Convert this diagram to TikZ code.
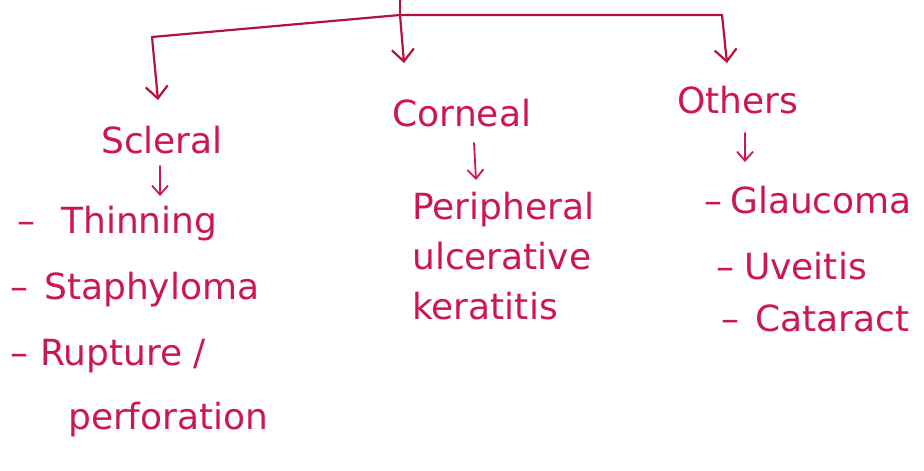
\documentclass[tikz,border=0pt]{standalone}
\usepackage{fontspec}
\setmainfont{DejaVu Sans}
\usetikzlibrary{arrows.meta}
\definecolor{ink}{RGB}{205,22,88}
\definecolor{lineink}{RGB}{180,18,60}
\tikzset{
  lbl/.style={text=ink, inner sep=0pt, font=\fontsize{36}{50}\selectfont},
  conn/.style={draw=lineink, line width=2.2pt, line cap=round, line join=round},
  bigarrow/.style={conn, -{Straight Barb[length=12pt,width=22pt,line width=2.2pt]}},
  smallarrow/.style={draw=ink, line width=1.8pt, line cap=round, -{Straight Barb[length=9pt,width=16pt,line width=1.8pt]}}
}
\begin{document}
\begin{tikzpicture}[x=1pt,y=-1pt]
\useasboundingbox[fill=white] (0,0) rectangle (924,471);
% tree lines
\coordinate (top) at (400,0);
\coordinate (br) at (400,15);
\coordinate (lc) at (152,37);
\coordinate (rc) at (722,15);
\coordinate (ltip) at (158,100);
\coordinate (mtip) at (404,63);
\coordinate (rtip) at (727,63);
\draw[conn] (top) -- (br);
\draw[conn] (lc) -- (br) -- (rc);
\draw[bigarrow] (lc) -- (ltip);
\draw[bigarrow] (br) -- (mtip);
\draw[bigarrow] (rc) -- (rtip);
% Scleral
\node[lbl] (scleral) at (162,140) {Scleral};
\coordinate (s1) at (160,166);
\coordinate (s2) at (160,196);
\draw[smallarrow] (s1) -- (s2);
\node[lbl, anchor=west] (thin) at (17,224) {–\hspace{26pt}Thinning};
\node[lbl, anchor=west] (staph) at (10,290) {–\hspace{16pt}Staphyloma};
\node[lbl, anchor=west] (rupt) at (10,356) {–\hspace{12pt}Rupture /};
\node[lbl, anchor=west] (perf) at (68,420) {perforation};
% Corneal
\node[lbl] (corneal) at (462,113) {Corneal};
\coordinate (c1) at (474,143);
\coordinate (c2) at (476,180);
\draw[smallarrow] (c1) -- (c2);
\node[lbl, anchor=north west, align=left] (puk) at (412,192) {Peripheral\\ulcerative\\keratitis};
% Others
\node[lbl] (others) at (738,100) {Others};
\coordinate (o1) at (745,133);
\coordinate (o2) at (745,162);
\draw[smallarrow] (o1) -- (o2);
\node[lbl, anchor=west] (glauc) at (704,200) {–\hspace{8pt}Glaucoma};
\node[lbl, anchor=west] (uveitis) at (716,266) {–\hspace{10pt}Uveitis};
\node[lbl, anchor=west] (cat) at (721,318) {–\hspace{16pt}Cataract};
\end{tikzpicture}
\end{document}
